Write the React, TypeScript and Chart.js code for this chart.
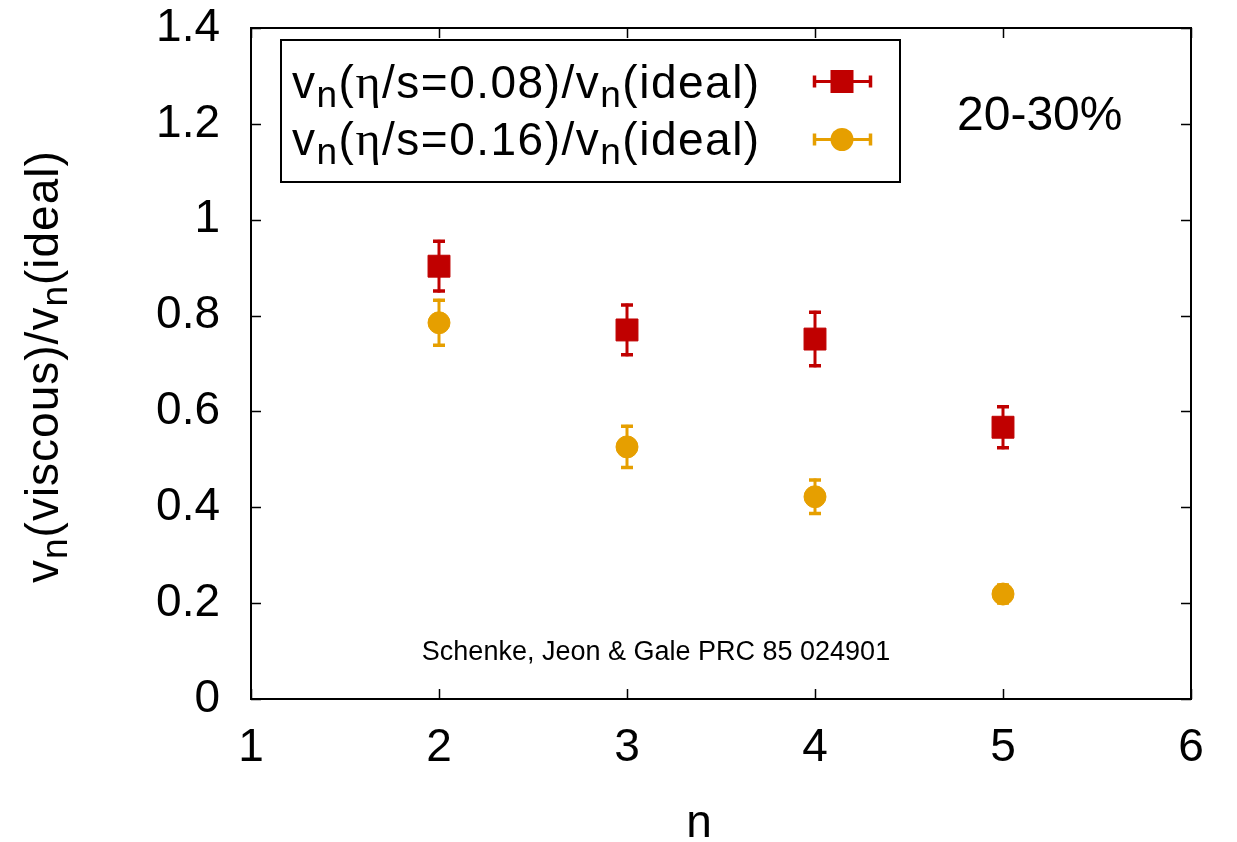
import { useEffect, useRef } from "react";
import { Chart, registerables } from "chart.js";

Chart.register(...registerables);

// Harmonic order n
const nValues = [2, 3, 4, 5];
// v_n(eta/s = 0.08) / v_n(ideal) and its uncertainty
const ratioEta008 = [0.903, 0.77, 0.751, 0.567];
const errEta008 = [0.055, 0.055, 0.059, 0.046];
// v_n(eta/s = 0.16) / v_n(ideal) and its uncertainty
const ratioEta016 = [0.785, 0.526, 0.422, 0.219];
const errEta016 = [0.05, 0.046, 0.038, 0.022];

const xTicks = [1, 2, 3, 4, 5, 6];
const xTickLabels = ["1", "2", "3", "4", "5", "6"];
const yTicks = [0, 0.2, 0.4, 0.6, 0.8, 1, 1.2, 1.4];
const yTickLabels = ["0", "0.2", "0.4", "0.6", "0.8", "1", "1.2", "1.4"];

const centralityLabel = "20-30%";
const sourceLabel = "Schenke, Jeon & Gale PRC 85 024901";
const xTitle = "n";

const RED = "#c00000";
const ORANGE = "#e69f00";
const SANS = '"Liberation Sans", Arial, Helvetica, sans-serif';
const SERIF = '"Liberation Serif", "Times New Roman", serif';

type Seg = { t: string; sub?: boolean; greek?: boolean };

const legendLine1: Seg[] = [
  { t: "v" }, { t: "n", sub: true }, { t: "(" }, { t: "\u03b7", greek: true },
  { t: "/s=0.08)/v" }, { t: "n", sub: true }, { t: "(ideal)" },
];
const legendLine2: Seg[] = [
  { t: "v" }, { t: "n", sub: true }, { t: "(" }, { t: "\u03b7", greek: true },
  { t: "/s=0.16)/v" }, { t: "n", sub: true }, { t: "(ideal)" },
];
const yTitle: Seg[] = [
  { t: "v" }, { t: "n", sub: true }, { t: "(viscous)/v" }, { t: "n", sub: true }, { t: "(ideal)" },
];

function segFont(s: Seg, size: number) {
  if (s.sub) return `${Math.round(size * 0.8)}px ${SANS}`;
  if (s.greek) return `${Math.round(size * 1.05)}px ${SERIF}`;
  return `${size}px ${SANS}`;
}

// Draws text with subscripts, one glyph at a time with a small extra spacing
function drawRich(ctx: CanvasRenderingContext2D, segs: Seg[], x: number, y: number, size: number, spacing: number) {
  let cx = x;
  ctx.textAlign = "left";
  ctx.textBaseline = "alphabetic";
  for (const s of segs) {
    ctx.font = segFont(s, size);
    for (const ch of s.t) {
      ctx.fillText(ch, cx, y + (s.sub ? size * 0.2 : 0));
      cx += ctx.measureText(ch).width + spacing;
    }
  }
  return cx - x;
}

function drawErrorBar(ctx: CanvasRenderingContext2D, x: number, yTop: number, yBot: number, color: string) {
  ctx.save();
  ctx.strokeStyle = color;
  ctx.lineWidth = 3;
  ctx.beginPath();
  ctx.moveTo(x, yTop);
  ctx.lineTo(x, yBot);
  ctx.stroke();
  ctx.lineWidth = 3.5;
  ctx.beginPath();
  ctx.moveTo(x - 6, yTop + 1.5);
  ctx.lineTo(x + 6, yTop + 1.5);
  ctx.moveTo(x - 6, yBot - 1.5);
  ctx.lineTo(x + 6, yBot - 1.5);
  ctx.stroke();
  ctx.restore();
}

const errorBarsPlugin = {
  id: "errorBars",
  beforeDatasetsDraw(chart: any) {
    const ctx: CanvasRenderingContext2D = chart.ctx;
    const xs = chart.scales.x;
    const ys = chart.scales.y;
    const sets = [
      { vals: ratioEta008, errs: errEta008, color: RED },
      { vals: ratioEta016, errs: errEta016, color: ORANGE },
    ];
    for (const s of sets) {
      s.vals.forEach((v, i) => {
        const px = xs.getPixelForValue(nValues[i]);
        drawErrorBar(ctx, px, ys.getPixelForValue(v + s.errs[i]), ys.getPixelForValue(v - s.errs[i]), s.color);
      });
    }
  },
};

const framePlugin = {
  id: "frame",
  afterDatasetsDraw(chart: any) {
    const ctx: CanvasRenderingContext2D = chart.ctx;
    const { left, right, top, bottom } = chart.chartArea;
    const xs = chart.scales.x;
    const ys = chart.scales.y;
    ctx.save();
    ctx.strokeStyle = "#000";
    ctx.lineWidth = 1.5;
    ctx.beginPath();
    for (const v of xTicks) {
      const px = Math.round(xs.getPixelForValue(v)) + 0.5;
      ctx.moveTo(px, bottom);
      ctx.lineTo(px, bottom - 10);
      ctx.moveTo(px, top);
      ctx.lineTo(px, top + 10);
    }
    for (const v of yTicks) {
      const py = Math.round(ys.getPixelForValue(v)) + 0.5;
      ctx.moveTo(left, py);
      ctx.lineTo(left + 10, py);
      ctx.moveTo(right, py);
      ctx.lineTo(right - 10, py);
    }
    ctx.stroke();
    ctx.lineWidth = 2;
    ctx.strokeRect(left, top, right - left, bottom - top);
    ctx.restore();
  },
};

const annotationsPlugin = {
  id: "annotations",
  afterDraw(chart: any) {
    const ctx: CanvasRenderingContext2D = chart.ctx;
    ctx.save();

    // legend box
    ctx.fillStyle = "#fff";
    ctx.fillRect(281, 40, 619, 142);
    ctx.strokeStyle = "#000";
    ctx.lineWidth = 2;
    ctx.strokeRect(281, 40, 619, 142);
    ctx.fillStyle = "#000";
    drawRich(ctx, legendLine1, 292, 98, 46, 1.5);
    drawRich(ctx, legendLine2, 292, 155, 46, 1.5);

    const keys = [
      { y: 81.5, color: RED, square: true },
      { y: 139.5, color: ORANGE, square: false },
    ];
    for (const k of keys) {
      ctx.strokeStyle = k.color;
      ctx.lineWidth = 3;
      ctx.beginPath();
      ctx.moveTo(814, k.y);
      ctx.lineTo(871, k.y);
      ctx.stroke();
      ctx.lineWidth = 3.5;
      ctx.beginPath();
      ctx.moveTo(814.5, k.y - 6);
      ctx.lineTo(814.5, k.y + 6);
      ctx.moveTo(870.5, k.y - 6);
      ctx.lineTo(870.5, k.y + 6);
      ctx.stroke();
      ctx.fillStyle = k.color;
      if (k.square) {
        ctx.fillRect(842 - 11.5, k.y - 11.5, 23, 23);
      } else {
        ctx.beginPath();
        ctx.arc(842, k.y, 11.5, 0, Math.PI * 2);
        ctx.fill();
      }
    }

    ctx.fillStyle = "#000";
    ctx.textAlign = "left";
    ctx.textBaseline = "alphabetic";
    ctx.font = `48px ${SANS}`;
    ctx.fillText(centralityLabel, 957, 130);

    ctx.font = `27px ${SANS}`;
    ctx.textAlign = "center";
    ctx.fillText(sourceLabel, 656, 660);

    ctx.font = `46px ${SANS}`;
    ctx.fillText(xTitle, 699, 837);

    ctx.translate(58, 583);
    ctx.rotate(-Math.PI / 2);
    drawRich(ctx, yTitle, 0, 0, 46, 1);
    ctx.restore();
  },
};

export default function App() {
  const canvasRef = useRef<HTMLCanvasElement | null>(null);

  useEffect(() => {
    const canvas = canvasRef.current;
    if (!canvas) return;
    const chart = new Chart(canvas, {
      type: "scatter",
      data: {
        datasets: [
          {
            label: "eta/s=0.08",
            data: nValues.map((n, i) => ({ x: n, y: ratioEta008[i] })),
            pointStyle: "rect",
            pointRadius: 15.5,
            backgroundColor: RED,
            borderColor: RED,
            borderWidth: 1,
          },
          {
            label: "eta/s=0.16",
            data: nValues.map((n, i) => ({ x: n, y: ratioEta016[i] })),
            pointStyle: "circle",
            pointRadius: 11,
            backgroundColor: ORANGE,
            borderColor: ORANGE,
            borderWidth: 1,
          },
        ],
      },
      options: {
        responsive: false,
        animation: false,
        events: [],
        layout: { padding: { left: 0, top: 28, right: 46, bottom: 0 } },
        plugins: {
          legend: { display: false },
          tooltip: { enabled: false },
        },
        scales: {
          x: {
            type: "linear",
            min: 1,
            max: 6,
            grid: { display: false, drawTicks: false },
            border: { display: false },
            afterBuildTicks: (scale: any) => {
              scale.ticks = xTicks.map((v) => ({ value: v }));
            },
            afterFit: (scale: any) => {
              scale.height = 143;
              scale.paddingLeft = 0;
              scale.paddingRight = 0;
            },
            ticks: {
              color: "#000",
              padding: 22,
              maxRotation: 0,
              autoSkip: false,
              font: { family: SANS, size: 46, lineHeight: 1.2 },
              callback: (_v: any, i: number) => xTickLabels[i],
            },
          },
          y: {
            type: "linear",
            min: 0,
            max: 1.4,
            grid: { display: false, drawTicks: false },
            border: { display: false },
            afterBuildTicks: (scale: any) => {
              scale.ticks = yTicks.map((v) => ({ value: v }));
            },
            afterFit: (scale: any) => {
              scale.width = 251;
              scale.paddingTop = 0;
              scale.paddingBottom = 0;
            },
            ticks: {
              color: "#000",
              padding: 31,
              autoSkip: false,
              font: { family: SANS, size: 46, lineHeight: 1.2 },
              callback: (_v: any, i: number) => yTickLabels[i],
            },
          },
        },
      },
      plugins: [errorBarsPlugin, framePlugin, annotationsPlugin],
    });
    return () => chart.destroy();
  }, []);

  return (
    <div style={{ position: "absolute", left: 0, top: 0, width: 1237, height: 842, background: "#fff" }}>
      <canvas ref={canvasRef} width={1237} height={842} style={{ display: "block" }} />
    </div>
  );
}
